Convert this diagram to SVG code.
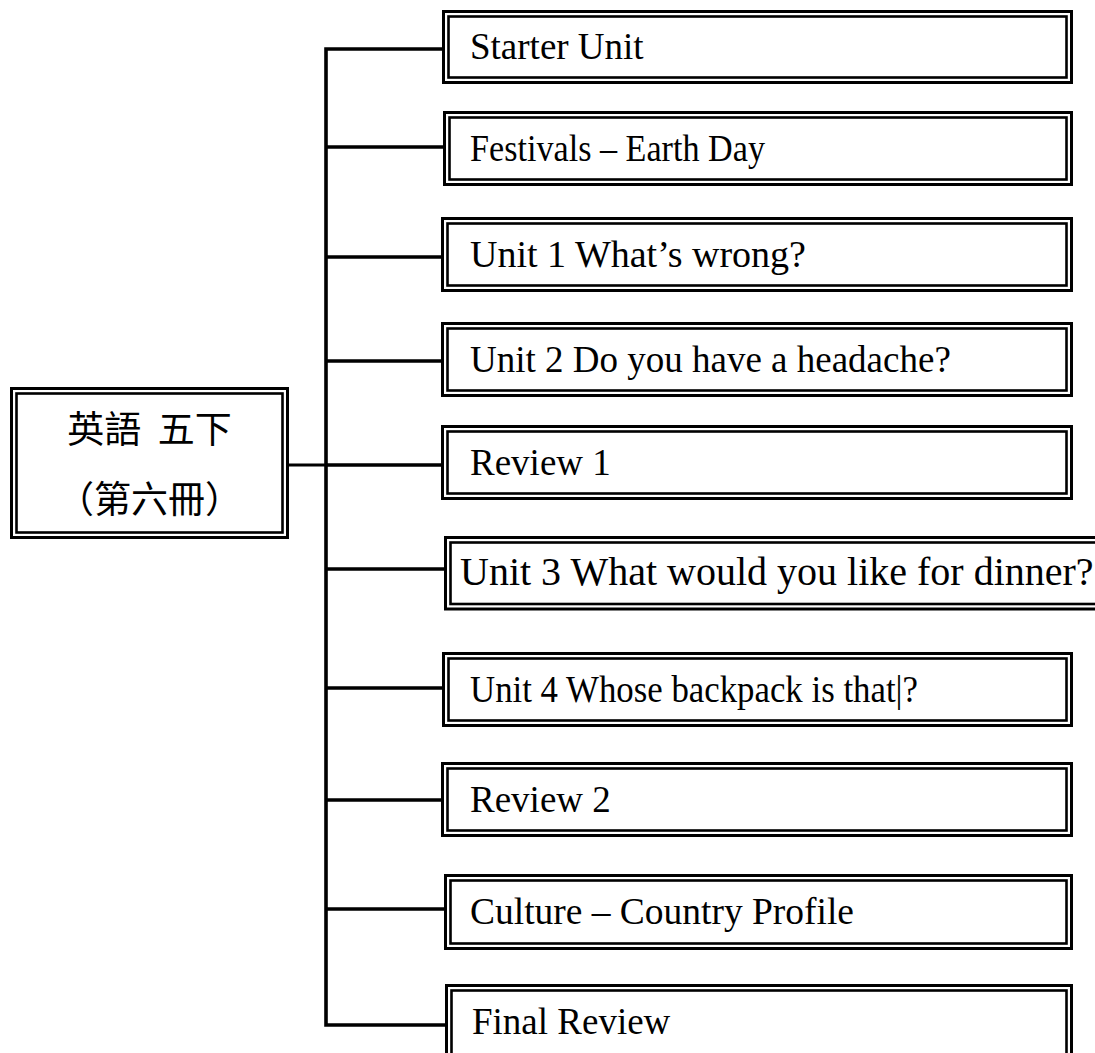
<svg xmlns="http://www.w3.org/2000/svg" width="1095" height="1053" viewBox="0 0 1095 1053">
<style>
.o{fill:none;stroke:#000;stroke-width:3}
.i{fill:none;stroke:#000;stroke-width:2.6}
.t{font-family:"Liberation Serif","Times New Roman",serif;font-size:37px;fill:#000}
.c{font-family:"Noto Sans CJK TC","Noto Sans CJK SC",sans-serif;font-size:37px;fill:#000;text-anchor:middle}
.l{fill:none;stroke:#000;stroke-width:3.6;stroke-linejoin:miter;stroke-linecap:butt}
</style>
<rect width="1095" height="1053" fill="#fff"/>
<g id="connectors">
<path class="l" d="M442 49H326V1025H445"/>
<path class="l" d="M326 147H443M326 257H441M326 361H441M326 465H441M326 569H444M326 688H442M326 800H441M326 909H444"/>
<path class="l" d="M289 465H326" style="stroke-width:2.8"/>
</g>
<g id="root">
<rect class="o" x="11.5" y="388.5" width="276" height="149"/>
<rect class="i" x="16.5" y="393.5" width="266" height="139"/>
<text class="c" x="149.5" y="443" style="word-spacing:8px">英語 五下</text>
<text class="c" x="149.5" y="513">（第六冊）</text>
</g>
<g id="n1">
<rect class="o" x="443.5" y="11.5" width="628" height="71"/>
<rect class="i" x="448.5" y="16.5" width="618" height="61"/>
<text class="t" x="470" y="59">Starter Unit</text>
</g>
<g id="n2">
<rect class="o" x="444.5" y="112.5" width="627" height="72"/>
<rect class="i" x="449.5" y="117.5" width="617" height="62"/>
<text class="t" x="470" y="161" textLength="295" lengthAdjust="spacingAndGlyphs">Festivals – Earth Day</text>
</g>
<g id="n3">
<rect class="o" x="442.5" y="218.5" width="629" height="72"/>
<rect class="i" x="447.5" y="223.5" width="619" height="62"/>
<text class="t" x="470" y="267" textLength="336" lengthAdjust="spacingAndGlyphs">Unit 1 What’s wrong?</text>
</g>
<g id="n4">
<rect class="o" x="442.5" y="323.5" width="629" height="72"/>
<rect class="i" x="447.5" y="328.5" width="619" height="62"/>
<text class="t" x="470" y="372">Unit 2 Do you have a headache?</text>
</g>
<g id="n5">
<rect class="o" x="442.5" y="426.5" width="629" height="72"/>
<rect class="i" x="447.5" y="431.5" width="619" height="62"/>
<text class="t" x="470" y="475">Review 1</text>
</g>
<g id="n6">
<rect class="o" x="445.5" y="537.5" width="680" height="71.5"/>
<rect class="i" x="450.5" y="542.5" width="670" height="61.5"/>
<text class="t" x="460" y="585" style="font-size:40px">Unit 3 What would you like for dinner?</text>
</g>
<g id="n7">
<rect class="o" x="443.5" y="653.5" width="628" height="72"/>
<rect class="i" x="448.5" y="658.5" width="618" height="62"/>
<text class="t" x="470" y="702" textLength="448" lengthAdjust="spacingAndGlyphs">Unit 4 Whose backpack is that|?</text>
</g>
<g id="n8">
<rect class="o" x="442.5" y="763.5" width="629" height="72"/>
<rect class="i" x="447.5" y="768.5" width="619" height="62"/>
<text class="t" x="470" y="812">Review 2</text>
</g>
<g id="n9">
<rect class="o" x="445.5" y="875.5" width="626" height="73"/>
<rect class="i" x="450.5" y="880.5" width="616" height="63"/>
<text class="t" x="470" y="924" textLength="384" lengthAdjust="spacingAndGlyphs">Culture – Country Profile</text>
</g>
<g id="n10">
<rect class="o" x="446.5" y="985.5" width="625" height="90"/>
<rect class="i" x="451.5" y="990.5" width="615" height="80"/>
<text class="t" x="472" y="1034">Final Review</text>
</g>
</svg>
